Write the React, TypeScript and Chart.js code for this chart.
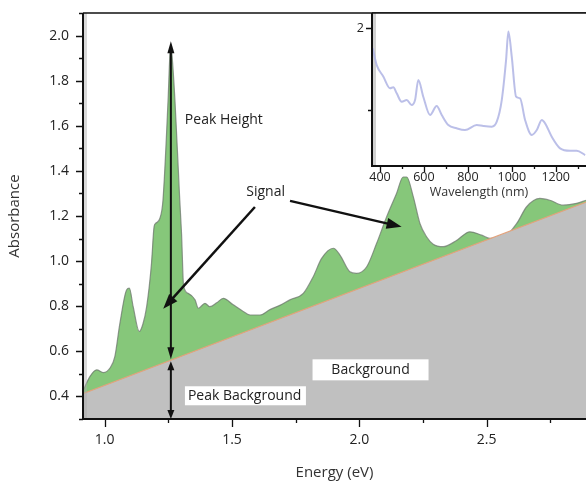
import React, { useEffect, useRef } from 'react';
import { Chart, registerables } from 'chart.js';
Chart.register(...registerables);

// Main spectrum: energy (eV) vs absorbance
const energy = [0.915, 0.942, 0.969, 0.995, 1.021, 1.04, 1.06, 1.086, 1.097, 1.112, 1.136, 1.15, 1.165, 1.184, 1.194, 1.2, 1.217, 1.229, 1.249, 1.257, 1.26, 1.264, 1.276, 1.295, 1.302, 1.31, 1.328, 1.355, 1.368, 1.394, 1.413, 1.44, 1.466, 1.505, 1.54, 1.571, 1.61, 1.649, 1.69, 1.727, 1.78, 1.819, 1.852, 1.898, 1.924, 1.963, 1.989, 2.029, 2.068, 2.107, 2.146, 2.172, 2.186, 2.212, 2.238, 2.264, 2.29, 2.329, 2.38, 2.434, 2.48, 2.513, 2.565, 2.618, 2.657, 2.709, 2.748, 2.8, 2.853, 2.89];
const absorbance = [0.425, 0.488, 0.518, 0.506, 0.526, 0.577, 0.725, 0.872, 0.88, 0.798, 0.688, 0.72, 0.798, 0.99, 1.152, 1.167, 1.19, 1.27, 1.713, 1.934, 1.96, 1.92, 1.713, 1.27, 1.12, 0.89, 0.857, 0.828, 0.791, 0.813, 0.798, 0.815, 0.835, 0.806, 0.78, 0.761, 0.761, 0.785, 0.805, 0.828, 0.857, 0.931, 1.012, 1.057, 1.027, 0.953, 0.946, 0.975, 1.079, 1.196, 1.3, 1.373, 1.373, 1.285, 1.167, 1.108, 1.075, 1.064, 1.09, 1.13, 1.115, 1.101, 1.105, 1.167, 1.241, 1.278, 1.27, 1.248, 1.256, 1.27];

// Linear background
const bgEnergy = [0.9, 2.9];
const bgAbsorbance = [0.4056, 1.2656];

// Main axes ticks
const xTickValues = [1.0, 1.25, 1.5, 1.75, 2.0, 2.25, 2.5, 2.75];
const xTickLabels = ['1.0', '', '1.5', '', '2.0', '', '2.5', ''];
const yTickValues = [0.3, 0.4, 0.5, 0.6, 0.7, 0.8, 0.9, 1.0, 1.1, 1.2, 1.3, 1.4, 1.5, 1.6, 1.7, 1.8, 1.9, 2.0, 2.1];
const yTickLabels = ['', '0.4', '', '0.6', '', '0.8', '', '1.0', '', '1.2', '', '1.4', '', '1.6', '', '1.8', '', '2.0', ''];

// Inset: wavelength (nm) vs absorbance
const wavelength = [366.7, 385, 415, 445.6, 460.6, 476, 499, 521.6, 544, 559.5, 574.5, 597, 627.8, 658, 681, 711, 749, 787, 840.5, 870.6, 909, 931.6, 954.4, 974, 984.5, 1000, 1019.6, 1037.8, 1060.6, 1091, 1113.9, 1136.7, 1151.7, 1182, 1220, 1265.6, 1296, 1334];
const insetAbs = [1.755, 1.55, 1.41, 1.266, 1.278, 1.204, 1.1, 1.122, 1.06, 1.122, 1.367, 1.163, 0.939, 1.049, 0.939, 0.816, 0.776, 0.755, 0.816, 0.804, 0.796, 0.857, 1.122, 1.61, 1.96, 1.65, 1.163, 1.143, 0.878, 0.694, 0.755, 0.878, 0.837, 0.673, 0.531, 0.502, 0.502, 0.449];
const insetXTickValues = [400, 500, 600, 700, 800, 900, 1000, 1100, 1200, 1300];
const insetXTickLabels = ['400', '', '600', '', '800', '', '1000', '', '1200', ''];
const insetYTickValues = [1, 2];
const insetYTickLabels = ['', '2'];

const FONT = '"Open Sans", "DejaVu Sans", sans-serif';

function arrowHead(ctx: CanvasRenderingContext2D, x1: number, y1: number, x2: number, y2: number, len: number, w: number) {
  const ang = Math.atan2(y2 - y1, x2 - x1);
  const bx = x2 - Math.cos(ang) * len;
  const by = y2 - Math.sin(ang) * len;
  const px = -Math.sin(ang) * w / 2;
  const py = Math.cos(ang) * w / 2;
  ctx.beginPath();
  ctx.moveTo(x2, y2);
  ctx.lineTo(bx + px, by + py);
  ctx.lineTo(bx - px, by - py);
  ctx.closePath();
  ctx.fill();
}

function arrow(ctx: CanvasRenderingContext2D, x1: number, y1: number, x2: number, y2: number, len: number, w: number, lw: number, both = false) {
  const ang = Math.atan2(y2 - y1, x2 - x1);
  ctx.lineWidth = lw;
  ctx.beginPath();
  const sx = both ? x1 + Math.cos(ang) * len * 0.8 : x1;
  const sy = both ? y1 + Math.sin(ang) * len * 0.8 : y1;
  ctx.moveTo(sx, sy);
  ctx.lineTo(x2 - Math.cos(ang) * len * 0.8, y2 - Math.sin(ang) * len * 0.8);
  ctx.stroke();
  arrowHead(ctx, x1, y1, x2, y2, len, w);
  if (both) arrowHead(ctx, x2, y2, x1, y1, len, w);
}

function drawAxes(chart: any, xv: number[], xl: string[], yv: number[], yl: string[], xMaj: number, xMin: number, yMaj: number, yMin: number, font: string, xLabelY: number, yLabelGap: number) {
  const ctx: CanvasRenderingContext2D = chart.ctx;
  const { left, right, top, bottom } = chart.chartArea;
  const xs = chart.scales.x;
  const ys = chart.scales.y;
  ctx.strokeStyle = '#111';
  ctx.lineWidth = 2;
  ctx.beginPath();
  ctx.moveTo(left, top);
  ctx.lineTo(left, bottom);
  ctx.lineTo(right, bottom);
  ctx.stroke();
  ctx.lineWidth = 1.5;
  ctx.beginPath();
  ctx.moveTo(left, top);
  ctx.lineTo(right, top);
  ctx.stroke();
  ctx.lineWidth = 1.3;
  ctx.beginPath();
  xv.forEach((v, i) => {
    const x = Math.round(xs.getPixelForValue(v)) + 0.5;
    const l = xl[i] ? xMaj : xMin;
    ctx.moveTo(x, bottom);
    ctx.lineTo(x, bottom + l);
  });
  yv.forEach((v, i) => {
    const y = Math.round(ys.getPixelForValue(v)) + 0.5;
    const l = yl[i] ? yMaj : yMin;
    ctx.moveTo(left, y);
    ctx.lineTo(left - l, y);
  });
  ctx.stroke();
  ctx.fillStyle = '#222';
  ctx.font = font;
  ctx.textBaseline = 'middle';
  ctx.textAlign = 'center';
  xv.forEach((v, i) => {
    if (xl[i]) ctx.fillText(xl[i], xs.getPixelForValue(v), xLabelY);
  });
  ctx.textAlign = 'right';
  yv.forEach((v, i) => {
    if (yl[i]) ctx.fillText(yl[i], left - yLabelGap, ys.getPixelForValue(v));
  });
}

const mainDecor = {
  id: 'mainDecor',
  afterDatasetsDraw(chart: any) {
    const ctx: CanvasRenderingContext2D = chart.ctx;
    const { left, right, top, bottom } = chart.chartArea;
    const xs = chart.scales.x;
    const ys = chart.scales.y;
    ctx.save();
    ctx.fillStyle = 'rgba(170,170,170,0.45)';
    ctx.fillRect(left + 1, top, 3, bottom - top);
    drawAxes(chart, xTickValues, xTickLabels, yTickValues, yTickLabels, 8, 4, 7, 4, '14px ' + FONT, 440, 14);

    ctx.fillStyle = '#111';
    ctx.strokeStyle = '#111';
    const xp = xs.getPixelForValue(1.26);
    const yPeak = ys.getPixelForValue(1.975);
    const yBg = ys.getPixelForValue(0.56);
    arrow(ctx, xp, yBg - 1, xp, yPeak, 12, 7, 2, true);
    arrow(ctx, xp, yBg + 1, xp, bottom, 9, 7, 2, true);
    arrow(ctx, xs.getPixelForValue(1.59), ys.getPixelForValue(1.24), xs.getPixelForValue(1.23), ys.getPixelForValue(0.789), 15, 11, 2.5);
    arrow(ctx, xs.getPixelForValue(1.728), ys.getPixelForValue(1.267), xs.getPixelForValue(2.166), ys.getPixelForValue(1.152), 15, 11, 2.5);

    ctx.font = '14px ' + FONT;
    ctx.textBaseline = 'middle';
    ctx.textAlign = 'left';
    ctx.fillStyle = '#222';
    ctx.fillText('Peak Height', xs.getPixelForValue(1.315), ys.getPixelForValue(1.624));
    ctx.textAlign = 'center';
    ctx.fillText('Signal', xs.getPixelForValue(1.632), ys.getPixelForValue(1.306));

    const pbX = xs.getPixelForValue(1.327);
    const pbY = ys.getPixelForValue(0.403);
    ctx.fillStyle = '#fff';
    ctx.fillRect(pbX - 3, pbY - 9.5, 121, 19);
    ctx.fillStyle = '#222';
    ctx.textAlign = 'left';
    ctx.fillText('Peak Background', pbX, pbY);

    const bX = xs.getPixelForValue(2.044);
    const bY = ys.getPixelForValue(0.518);
    ctx.fillStyle = '#fff';
    ctx.fillRect(bX - 58, bY - 10.5, 116, 21);
    ctx.fillStyle = '#222';
    ctx.textAlign = 'center';
    ctx.fillText('Background', bX, bY);

    ctx.fillStyle = '#333';
    ctx.font = '15px ' + FONT;
    ctx.fillText('Energy (eV)', (left + right) / 2, 473);
    ctx.translate(15, (top + bottom) / 2);
    ctx.rotate(-Math.PI / 2);
    ctx.fillText('Absorbance', 0, 0);
    ctx.restore();
  },
};

const insetDecor = {
  id: 'insetDecor',
  beforeDatasetsDraw(chart: any) {
    const ctx: CanvasRenderingContext2D = chart.ctx;
    const { left, right, top, bottom } = chart.chartArea;
    ctx.save();
    ctx.fillStyle = '#fff';
    ctx.fillRect(left, top, right - left, bottom - top);
    ctx.fillStyle = 'rgba(190,190,190,0.7)';
    ctx.fillRect(left + 1, top, 3, bottom - top);
    ctx.restore();
  },
  afterDatasetsDraw(chart: any) {
    const ctx: CanvasRenderingContext2D = chart.ctx;
    const { left, right } = chart.chartArea;
    ctx.save();
    drawAxes(chart, insetXTickValues, insetXTickLabels, insetYTickValues, insetYTickLabels, 6, 3, 6, 4, '12.5px ' + FONT, 177.5, 8);
    ctx.fillStyle = '#333';
    ctx.font = '12.5px ' + FONT;
    ctx.textAlign = 'center';
    ctx.textBaseline = 'middle';
    ctx.fillText('Wavelength (nm)', (left + right) / 2, 192);
    ctx.restore();
  },
};

function scaleOpts(min: number, max: number, fitKey: 'width' | 'height', fitVal: number) {
  return {
    type: 'linear',
    min,
    max,
    grid: { display: false, drawTicks: false },
    border: { display: false },
    ticks: { display: false },
    afterFit: (s: any) => { s[fitKey] = fitVal; },
  };
}

export default function App() {
  const mainRef = useRef<HTMLCanvasElement>(null);
  const insetRef = useRef<HTMLCanvasElement>(null);

  useEffect(() => {
    const main = new Chart(mainRef.current as HTMLCanvasElement, {
      type: 'line',
      data: {
        datasets: [
          {
            label: 'Background',
            data: bgEnergy.map((e, i) => ({ x: e, y: bgAbsorbance[i] })),
            borderColor: '#e3a27c',
            borderWidth: 1.2,
            backgroundColor: '#c0c0c0',
            fill: 'start',
            pointRadius: 0,
          },
          {
            label: 'Spectrum',
            data: energy.map((e, i) => ({ x: e, y: absorbance[i] })),
            borderColor: 'rgba(110,120,110,0.75)',
            borderWidth: 1.2,
            backgroundColor: '#86c77a',
            fill: 'start',
            pointRadius: 0,
            cubicInterpolationMode: 'monotone',
          },
        ],
      },
      options: {
        responsive: false,
        animation: false,
        devicePixelRatio: 1,
        layout: { padding: { left: 0, top: 13, right: 0, bottom: 0 } },
        plugins: { legend: { display: false }, tooltip: { enabled: false } },
        scales: {
          x: scaleOpts(0.915, 2.89, 'height', 62),
          y: scaleOpts(0.3, 2.1, 'width', 83),
        },
      },
      plugins: [mainDecor],
    } as any);

    const inset = new Chart(insetRef.current as HTMLCanvasElement, {
      type: 'line',
      data: {
        datasets: [
          {
            label: 'Inset',
            data: wavelength.map((w, i) => ({ x: w, y: insetAbs[i] })),
            borderColor: 'rgba(175,180,228,0.85)',
            borderWidth: 2,
            pointRadius: 0,
            fill: false,
            cubicInterpolationMode: 'monotone',
          },
        ],
      },
      options: {
        responsive: false,
        animation: false,
        devicePixelRatio: 1,
        layout: { padding: { left: 0, top: 13, right: 0, bottom: 0 } },
        plugins: { legend: { display: false }, tooltip: { enabled: false } },
        scales: {
          x: scaleOpts(363.5, 1338, 'height', 44),
          y: scaleOpts(0.315, 2.187, 'width', 42),
        },
      },
      plugins: [insetDecor],
    } as any);

    return () => {
      main.destroy();
      inset.destroy();
    };
  }, []);

  return (
    <div style={{ position: 'fixed', left: 0, top: 0, width: 586, height: 481, background: '#fff', overflow: 'hidden' }}>
      <canvas ref={mainRef} width={586} height={481} style={{ position: 'absolute', left: 0, top: 0 }} />
      <canvas ref={insetRef} width={256} height={210} style={{ position: 'absolute', left: 330, top: 0 }} />
    </div>
  );
}
